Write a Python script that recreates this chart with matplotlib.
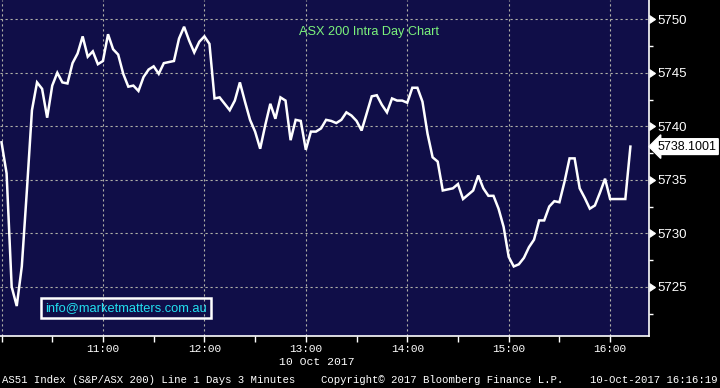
import numpy as np
import matplotlib
matplotlib.use("Agg")
import matplotlib.pyplot as plt
import matplotlib.markers as mmarkers
import pandas as pd

# AS51 3-minute closes, 10 Oct 2017
prices = [
    5738.5, 5735.6, 5725.0, 5723.2, 5726.9, 5734.0, 5741.5, 5744.1, 5743.5, 5740.8,
    5743.8, 5745.0, 5744.1, 5744.0, 5745.9, 5746.8, 5748.4, 5746.5, 5747.0, 5745.8,
    5746.1, 5748.6, 5747.2, 5746.7, 5744.9, 5743.7, 5743.8, 5743.3, 5744.6, 5745.3,
    5745.6, 5744.9, 5745.9, 5746.0, 5746.1, 5748.2, 5749.3, 5748.0, 5746.9, 5747.9,
    5748.4, 5747.7, 5742.6, 5742.7, 5742.1, 5741.5, 5742.4, 5744.1, 5742.3, 5740.6,
    5739.5, 5737.9, 5740.1, 5742.1, 5740.7, 5742.7, 5742.4, 5738.7, 5740.6, 5740.5,
    5737.8, 5739.5, 5739.5, 5739.8, 5740.6, 5740.5, 5740.3, 5740.6, 5741.3, 5741.0,
    5740.5, 5739.6, 5741.2, 5742.8, 5742.9, 5742.0, 5741.3, 5742.6, 5742.4, 5742.4,
    5742.2, 5743.6, 5743.6, 5742.3, 5739.3, 5737.1, 5736.7, 5734.0, 5734.1, 5734.2,
    5734.6, 5733.2, 5733.6, 5734.0, 5735.4, 5734.2, 5733.5, 5733.5, 5732.3, 5730.6,
    5727.8, 5726.9, 5727.1, 5727.7, 5728.7, 5729.4, 5731.2, 5731.2, 5732.5, 5733.0,
    5732.9, 5734.8, 5737.0, 5737.0, 5734.2, 5733.3, 5732.3, 5732.6, 5733.8, 5735.1,
    5733.2, 5733.2, 5733.2, 5733.2, 5738.1001,
]
times = pd.date_range("2017-10-10 10:00", periods=len(prices), freq="3min")
y_ticks = [5725, 5730, 5735, 5740, 5745, 5750]
hour_labels = ["11:00", "12:00", "13:00", "14:00", "15:00", "16:00"]

bg = "#100e48"
sans = ["Liberation Sans", "DejaVu Sans"]
mono = ["Liberation Mono", "DejaVu Sans Mono"]

fig = plt.figure(figsize=(7.2, 3.88), dpi=100, facecolor="black")
ax = fig.add_axes([0, 52 / 388, 649 / 720, 336 / 388], facecolor=bg)

ax.plot(times, prices, color="white", lw=1.8, solid_joinstyle="miter")

ax.set_xlim(pd.Timestamp("2017-10-10 09:59:06"), pd.Timestamp("2017-10-10 16:23"))
ax.set_ylim(5720.4, 5751.8)

# dotted grid
hours = pd.date_range("2017-10-10 10:00", "2017-10-10 16:00", freq="1h")
for h in hours:
    ax.axvline(h, color="#b0b0a8", lw=0.8, ls=(0, (2, 2.5)), zorder=0)
for v in y_ticks:
    ax.axhline(v, color="#b0b0a8", lw=0.8, ls=(0, (2, 2.5)), zorder=0)

# right axis
ax.set_yticks(y_ticks)
ax.set_yticks(np.arange(5722.5, 5750, 5), minor=True)
ax.yaxis.tick_right()
ax.tick_params(axis="y", which="major", colors="white", labelsize=9.5, pad=2, length=4)
ax.tick_params(axis="y", which="minor", colors="white", length=3, width=1)
for t in ax.yaxis.get_major_ticks():
    t.tick2line.set_marker(mmarkers.CARETRIGHTBASE)
    t.tick2line.set_markersize(6)
for lbl in ax.get_yticklabels():
    lbl.set_family(sans)

# bottom axis, ticks every 30 minutes, labels on the hour
ax.set_xticks(list(pd.date_range("2017-10-10 10:00", periods=13, freq="30min")))
xt_labels = [""] * 13
for i, lab in enumerate(hour_labels):
    xt_labels[2 + 2 * i] = lab
ax.set_xticklabels(xt_labels, family=mono, fontsize=8, color="white")
ax.tick_params(axis="x", colors="white", length=4, width=1, pad=2)

for side in ["top", "left"]:
    ax.spines[side].set_visible(False)
for side in ["right", "bottom"]:
    ax.spines[side].set_color("white")
    ax.spines[side].set_linewidth(1.2)

# texts
ax.text(369 / 649, 1 - 32 / 336, "ASX 200 Intra Day Chart", transform=ax.transAxes,
        color="#7cf27c", fontsize=9.2, family=sans, ha="center", va="center")
ax.text(126 / 649, 1 - 308 / 336, "info@marketmatters.com.au", transform=ax.transAxes,
        color="#22e0f0", fontsize=9.3, family=sans, ha="center", va="center",
        bbox=dict(boxstyle="square,pad=0.3", fc="none", ec="white", lw=1.8))

ax.annotate(f"{prices[-1]:.4f}", xy=(1.0, prices[-1]), xycoords=("axes fraction", "data"),
            xytext=(6, 0), textcoords="offset points", color="black", fontsize=9,
            family=sans, ha="left", va="center", annotation_clip=False,
            bbox=dict(boxstyle="larrow,pad=0.15", fc="white", ec="white"))

fig.text(317 / 720, 1 - 362 / 388, "10 Oct 2017", color="white", fontsize=8.2,
         family=mono, ha="center", va="center")
fig.text(2 / 720, 1 - 380 / 388, "AS51 Index (S&P/ASX 200) Line 1 Days 3 Minutes",
         color="white", fontsize=7.7, family=mono, ha="left", va="center")
fig.text(321 / 720, 1 - 380 / 388, "Copyright\u00a9 2017 Bloomberg Finance L.P.",
         color="white", fontsize=7.7, family=mono, ha="left", va="center")
fig.text(718 / 720, 1 - 380 / 388, "10-Oct-2017 16:16:19",
         color="white", fontsize=7.7, family=mono, ha="right", va="center")

fig.savefig("out.png", dpi=100, facecolor="black")
